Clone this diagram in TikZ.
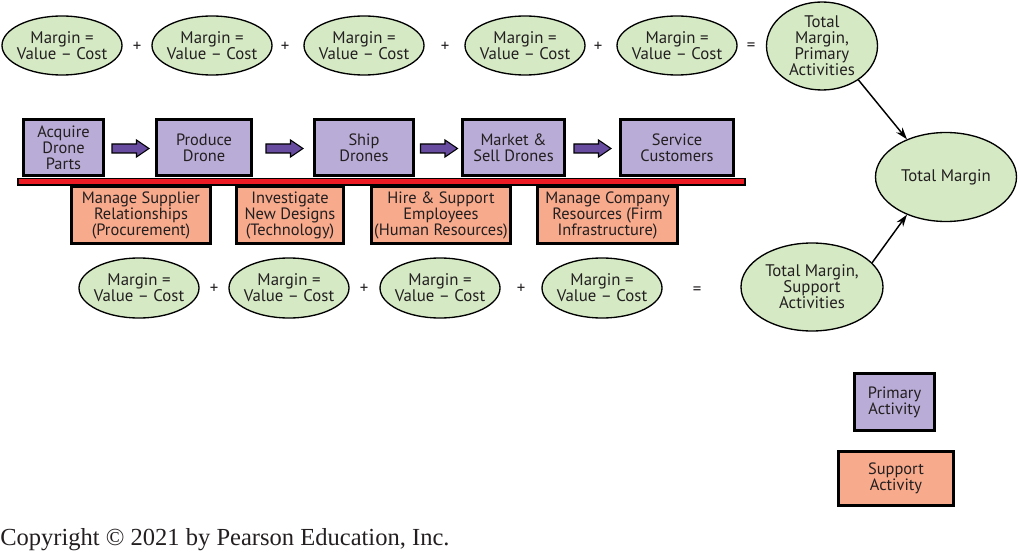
\documentclass[tikz,border=0pt]{standalone}
\usepackage{fontspec}
\setmainfont{Liberation Serif}
\newfontfamily\sansf{PT Sans}
\usetikzlibrary{shapes.geometric,arrows.meta}
\definecolor{egreen}{HTML}{D5EAC4}
\definecolor{pboxc}{HTML}{B9ACD6}
\definecolor{sboxc}{HTML}{F7AA8C}
\definecolor{barred}{HTML}{ED1C24}
\definecolor{arrp}{HTML}{684CA0}
\definecolor{textc}{HTML}{231F20}
\tikzset{
  ell/.style={ellipse, draw=black, line width=1pt, fill=egreen, inner sep=0pt},
  txt/.style={font=\sansf\fontsize{12.6}{12}\selectfont, align=center, text=textc, inner sep=0pt},
  pbox/.style={rectangle, draw=black, line width=2.25pt, fill=pboxc, inner sep=0pt,
    font=\sansf\fontsize{12.3}{12}\selectfont, align=center, text=textc},
  sbox/.style={pbox, fill=sboxc},
  op/.style={font=\sansf\fontsize{12.6}{12}\selectfont, text=textc, inner sep=0pt},
  barrow/.style={draw=black, line width=0.8pt, fill=arrp, line join=miter},
  tot/.style={draw=black, line width=1.1pt, -{Stealth[length=9pt,width=6pt]}},
  redbar/.style={draw=black, line width=1.1pt, fill=barred}
}
\newcommand\Ell[6]{%
  \node[ell, minimum width=#4*0.75pt, minimum height=#5*0.75pt] (#1) at (#2,#3) {};
  \node[txt] (#1t) at (#1) {#6};}
\newcommand\Barr[2]{%
  \draw[barrow] (#1-18.5,144) -- (#1+6,144) -- (#1+6,140) -- (#1+18.5,148.5)
    -- (#1+6,157) -- (#1+6,153) -- (#1-18.5,153) -- cycle;}
\begin{document}
\begin{tikzpicture}[x=0.75pt,y=-0.75pt]
\useasboundingbox (0,0) rectangle (1020,552);

% top row
\Ell{t1}{62}{45.5}{120}{59}{Margin =\\Value – Cost}
\Ell{t2}{212}{45.5}{120}{59}{Margin =\\Value – Cost}
\Ell{t3}{364}{45.5}{120}{59}{Margin =\\Value – Cost}
\Ell{t4}{525}{45.5}{120}{59}{Margin =\\Value – Cost}
\Ell{t5}{677}{45.5}{120}{59}{Margin =\\Value – Cost}
\node[op] (tp1) at (137,47) {+};
\node[op] (tp2) at (285,47) {+};
\node[op] (tp3) at (445,47) {+};
\node[op] (tp4) at (598,47) {+};
\node[op] (teq) at (751,47) {=};
\Ell{prim}{822}{46}{111}{88}{Total\\Margin,\\Primary\\Activities}

% total margin
\Ell{total}{946}{177}{141}{89}{Total Margin}

% support boxes (hanging under bar)
\node[sbox, minimum width=139*0.75pt, minimum height=57*0.75pt] (s1) at (141,215) {Manage Supplier\\Relationships\\(Procurement)};
\node[sbox, minimum width=107*0.75pt, minimum height=57*0.75pt] (s2) at (290,215) {Investigate\\New Designs\\(Technology)};
\node[sbox, minimum width=139*0.75pt, minimum height=57*0.75pt] (s3) at (441,215) {Hire \& Support\\Employees\\(Human Resources)};
\node[sbox, minimum width=140*0.75pt, minimum height=57*0.75pt] (s4) at (607.5,215) {Manage Company\\Resources (Firm\\Infrastructure)};

% primary boxes
\node[pbox, minimum width=80*0.75pt, minimum height=56*0.75pt] (p1) at (63.5,147.5) {Acquire\\Drone\\Parts};
\node[pbox, minimum width=95*0.75pt, minimum height=56*0.75pt] (p2) at (204,147.5) {Produce\\Drone};
\node[pbox, minimum width=99*0.75pt, minimum height=56*0.75pt] (p3) at (364,147.5) {Ship\\Drones};
\node[pbox, minimum width=102*0.75pt, minimum height=56*0.75pt] (p4) at (513.5,147.5) {Market \&\\Sell Drones};
\node[pbox, minimum width=113*0.75pt, minimum height=56*0.75pt] (p5) at (677,147.5) {Service\\Customers};

% red bar
\draw[redbar] (18,178.5) rectangle (745,185);

% block arrows
\Barr{130.5}{}
\Barr{284.5}{}
\Barr{439}{}
\Barr{592.5}{}

% bottom row
\Ell{b1}{139}{288}{120}{60}{Margin =\\Value – Cost}
\Ell{b2}{289}{288}{120}{60}{Margin =\\Value – Cost}
\Ell{b3}{440}{288}{120}{60}{Margin =\\Value – Cost}
\Ell{b4}{602}{288}{120}{60}{Margin =\\Value – Cost}
\node[op] (bp1) at (214,289) {+};
\node[op] (bp2) at (364,289) {+};
\node[op] (bp3) at (521,289) {+};
\node[op] (beq) at (697,291) {=};
\Ell{supp}{812}{287}{142}{88}{Total Margin,\\Support\\Activities}

% arrows to total margin
\draw[tot] (prim.-43) -- (total.136);
\draw[tot] (supp.22) -- (total.224);

% legend
\node[pbox, minimum width=80*0.75pt, minimum height=57*0.75pt] (lp) at (894.5,402) {Primary\\Activity};
\node[sbox, minimum width=115*0.75pt, minimum height=54*0.75pt] (ls) at (896,478.5) {Support\\Activity};

% copyright
\node[anchor=base west, inner sep=0pt, font=\fontsize{18.4}{20}\selectfont, text=textc] (copy) at (0,545) {Copyright © 2021 by Pearson Education, Inc.};
\end{tikzpicture}
\end{document}
